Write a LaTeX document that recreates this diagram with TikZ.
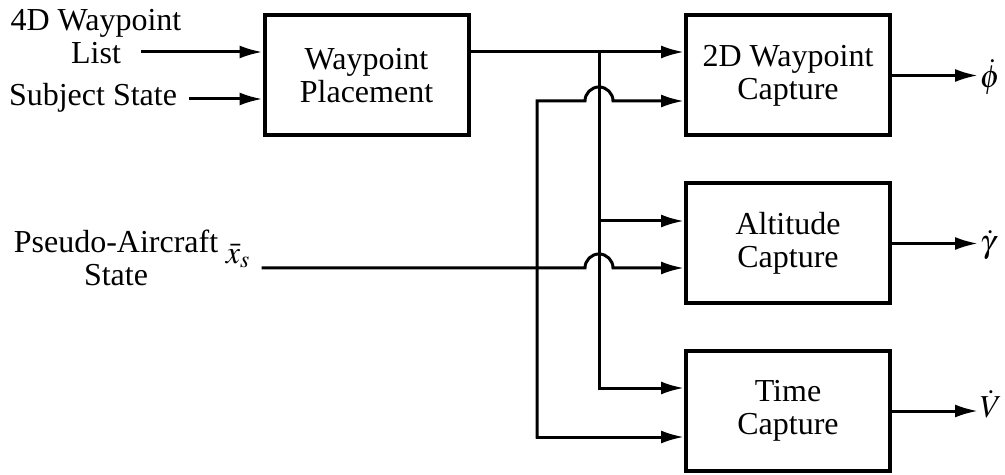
\documentclass[tikz,border=0pt]{standalone}
\usepackage{amsmath}
\usepackage{mathptmx}
\usepackage{fontspec}
\setmainfont{Liberation Serif}
\usetikzlibrary{arrows.meta,calc,positioning}
\tikzset{
        block/.style = {draw, rectangle, line width=2pt,
            minimum height=60pt,
            minimum width=102pt, align=center},
        txt/.style = {align=center, inner sep=0.75pt},
        wire/.style = {draw, line width=1.5pt, line cap=rect},
        arrow/.style = {wire, -{Latex[length=11.5pt,width=6.5pt]}},
    }

\begin{document}
\begin{tikzpicture}[x=0.5pt,y=0.5pt,yscale=-1,xscale=1,font=\fontsize{16}{16.5}\selectfont]
    \useasboundingbox (0,0) rectangle (1005,475);

    % Blocks
    \node [block] (place) at (366.5,75.5) {Waypoint\\Placement};
    \node [block] (wpcap) at (788,75.5) {2D Waypoint\\Capture};
    \node [block] (altcap) at (788,243.5) {Altitude\\Capture};
    \node [block] (timecap) at (788,411) {Time\\Capture};

    % Text Node
    \node [txt] (list) at (96,37) {4D Waypoint\\List};
    % Text Node
    \node [txt] (subj) at (93,98) {Subject State};
    % Text Node
    \node [txt] (pseudo) at (116,258) {Pseudo-Aircraft\\State};
    % Text Node
    \node [txt] (xs) at (238,256) {$\bar{x}_s$};

    % Outputs
    \node [txt, anchor=west] (phi) at (978,77) {$\dot{\phi}$};
    \node [txt, anchor=west] (gam) at (978,245) {$\dot{\gamma}$};
    \node [txt, anchor=west] (vel) at (978,404) {$\dot{V}$};

    % free ends and branch points
    \coordinate (listin) at (142,52);
    \coordinate (subjin) at (190,99);
    \coordinate (xsin) at (263,268);
    \coordinate (bus) at (599,52);
    \coordinate (busalt) at (599,221);
    \coordinate (bustime) at (599,388);
    \coordinate (fb) at (537,101);
    \coordinate (fbtime) at (537,437);

    % inputs
    \draw [arrow] (listin) -- (listin -| place.west);
    \draw [arrow] (subjin) -- (subjin -| place.west);

    % waypoint bus
    \draw [arrow] (place.east |- bus) -- (bus -| wpcap.west);
    \draw [wire] (bus) -- (bustime);
    \draw [arrow] (busalt) -- (busalt -| altcap.west);
    \draw [arrow] (bustime) -- (bustime -| timecap.west);

    % state lines, jumping the bus
    \draw [arrow] (xsin) -- ([xshift=-7pt]xsin -| bus) arc [start angle=180, end angle=360, radius=14] -- (xsin -| altcap.west);
    \draw [arrow] (fbtime) -- (fb) -- ([xshift=-7pt]fb -| bus) arc [start angle=180, end angle=360, radius=14] -- (fb -| wpcap.west);
    \draw [arrow] (fbtime) -- (fbtime -| timecap.west);

    % outputs
    \draw [arrow] (wpcap.east) -- (wpcap.east -| phi.west);
    \draw [arrow] (altcap.east) -- (altcap.east -| gam.west);
    \draw [arrow] (timecap.east) -- (timecap.east -| vel.west);

\end{tikzpicture}
\end{document}
